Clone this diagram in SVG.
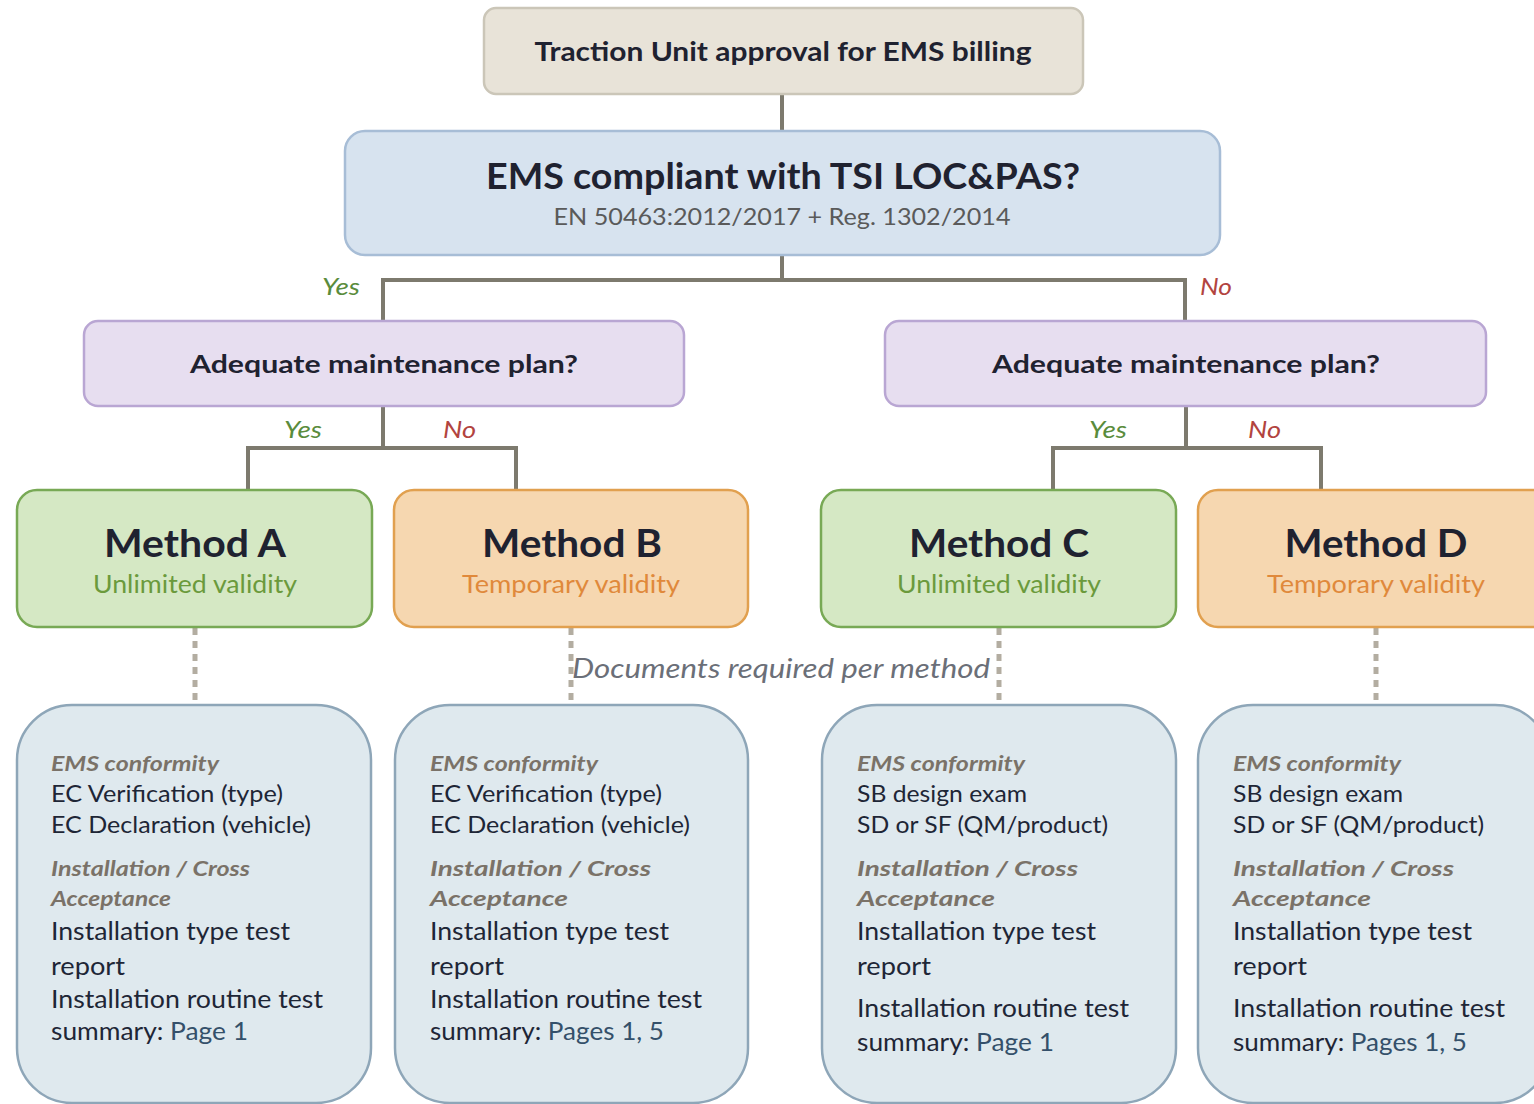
<svg xmlns="http://www.w3.org/2000/svg" width="1534" height="1104" viewBox="0 0 1534 1104">
<style>
text{font-family:Lato,"Liberation Sans",sans-serif;}
.conn{fill:none;stroke:#7d7a6e;stroke-width:4;}
.dash{fill:none;stroke:#b3ada1;stroke-width:5;stroke-dasharray:7 6;}
.b{font-weight:700;fill:#1f2230;}
.yes{font-style:italic;font-size:23px;fill:#5a8c3c;}
.no{font-style:italic;font-size:23px;fill:#b2443f;}
.purple{fill:#e7def0;stroke:#b9a6d3;stroke-width:2.5;}
.green{fill:#d5e8c4;stroke:#78a955;stroke-width:2.5;}
.orange{fill:#f6d7b0;stroke:#e1a04f;stroke-width:2.5;}
.doc{fill:#dfe9ee;stroke:#8ea6b8;stroke-width:2.5;}
.mt{font-weight:700;font-size:38px;fill:#1f2230;text-anchor:middle;}
.vg{font-size:25px;fill:#6b9a3c;text-anchor:middle;}
.vo{font-size:25px;fill:#e0893b;text-anchor:middle;}
.h{font-style:italic;font-weight:700;font-size:21px;fill:#7a7268;}
.t{font-size:23px;fill:#1e2636;}
.t2{font-size:25px;fill:#1e2636;}
.pg{fill:#34506a;}
</style>

<g id="connectors">
  <path class="conn" d="M782 94 V131"/>
  <path class="conn" d="M782 255 V280 M383 322 V280 H1185 V322"/>
  <path class="conn" d="M383 406 V448 M248 491 V448 H516 V491"/>
  <path class="conn" d="M1186 406 V448 M1053 491 V448 H1321 V491"/>
  <path class="dash" d="M195 628 V705"/>
  <path class="dash" d="M571 628 V705"/>
  <path class="dash" d="M999 628 V705"/>
  <path class="dash" d="M1376 628 V705"/>
  <text class="yes" x="322" y="295" textLength="38" lengthAdjust="spacingAndGlyphs">Yes</text>
  <text class="no" x="1200" y="295" textLength="32" lengthAdjust="spacingAndGlyphs">No</text>
  <text class="yes" x="284" y="438" textLength="38" lengthAdjust="spacingAndGlyphs">Yes</text>
  <text class="no" x="443" y="438" textLength="33" lengthAdjust="spacingAndGlyphs">No</text>
  <text class="yes" x="1089" y="438" textLength="38" lengthAdjust="spacingAndGlyphs">Yes</text>
  <text class="no" x="1248" y="438" textLength="33" lengthAdjust="spacingAndGlyphs">No</text>
  <text x="572" y="678" font-style="italic" font-size="27" fill="#6b6f78" textLength="418" lengthAdjust="spacingAndGlyphs">Documents required per method</text>
</g>

<g id="top">
  <rect x="484" y="8" width="599" height="86" rx="12" fill="#e8e3d8" stroke="#cbc6b8" stroke-width="2.5"/>
  <text class="b" x="783" y="61" font-size="27" text-anchor="middle" textLength="497" lengthAdjust="spacingAndGlyphs">Traction Unit approval for EMS billing</text>
</g>

<g id="tsi">
  <rect x="345" y="131" width="875" height="124" rx="20" fill="#d7e3ef" stroke="#a7bdd6" stroke-width="2.5"/>
  <text class="b" x="783" y="189" font-size="37" text-anchor="middle" textLength="594" lengthAdjust="spacingAndGlyphs">EMS compliant with TSI LOC&amp;PAS?</text>
  <text x="782" y="225" font-size="24" fill="#5a5a5a" text-anchor="middle" textLength="457" lengthAdjust="spacingAndGlyphs">EN 50463:2012/2017 + Reg. 1302/2014</text>
</g>

<g id="maint-yes">
  <rect class="purple" x="84" y="321" width="600" height="85" rx="14"/>
  <text class="b" x="384" y="373" font-size="25" text-anchor="middle" textLength="388" lengthAdjust="spacingAndGlyphs">Adequate maintenance plan?</text>
</g>
<g id="maint-no">
  <rect class="purple" x="885" y="321" width="601" height="85" rx="14"/>
  <text class="b" x="1186" y="373" font-size="25" text-anchor="middle" textLength="388" lengthAdjust="spacingAndGlyphs">Adequate maintenance plan?</text>
</g>

<g id="method-a">
  <rect class="green" x="17" y="490" width="355" height="137" rx="20"/>
  <text class="mt" x="195" y="557" textLength="182" lengthAdjust="spacingAndGlyphs">Method A</text>
  <text class="vg" x="195" y="593" textLength="204" lengthAdjust="spacingAndGlyphs">Unlimited validity</text>
</g>
<g id="method-b">
  <rect class="orange" x="394" y="490" width="354" height="137" rx="20"/>
  <text class="mt" x="572" y="557" textLength="180" lengthAdjust="spacingAndGlyphs">Method B</text>
  <text class="vo" x="571" y="593" textLength="218" lengthAdjust="spacingAndGlyphs">Temporary validity</text>
</g>
<g id="method-c">
  <rect class="green" x="821" y="490" width="355" height="137" rx="20"/>
  <text class="mt" x="999" y="557" textLength="180" lengthAdjust="spacingAndGlyphs">Method C</text>
  <text class="vg" x="999" y="593" textLength="204" lengthAdjust="spacingAndGlyphs">Unlimited validity</text>
</g>
<g id="method-d">
  <rect class="orange" x="1198" y="490" width="360" height="137" rx="20"/>
  <text class="mt" x="1376" y="557" textLength="183" lengthAdjust="spacingAndGlyphs">Method D</text>
  <text class="vo" x="1376" y="593" textLength="218" lengthAdjust="spacingAndGlyphs">Temporary validity</text>
</g>

<g id="docs-a">
  <rect class="doc" x="17" y="705" width="354" height="398" rx="55"/>
  <text class="h" x="51" y="771" textLength="168" lengthAdjust="spacingAndGlyphs">EMS conformity</text>
  <text class="t" x="51" y="802" textLength="232" lengthAdjust="spacingAndGlyphs">EC Verification (type)</text>
  <text class="t" x="51" y="833" textLength="260" lengthAdjust="spacingAndGlyphs">EC Declaration (vehicle)</text>
  <text class="h" x="51" y="876" textLength="199" lengthAdjust="spacingAndGlyphs">Installation / Cross</text>
  <text class="h" x="51" y="906" textLength="120" lengthAdjust="spacingAndGlyphs">Acceptance</text>
  <text class="t2" x="51" y="940" textLength="239" lengthAdjust="spacingAndGlyphs">Installation type test</text>
  <text class="t2" x="51" y="975" textLength="74" lengthAdjust="spacingAndGlyphs">report</text>
  <text class="t2" x="51" y="1008" textLength="272" lengthAdjust="spacingAndGlyphs">Installation routine test</text>
  <text class="t2" x="51" y="1040" textLength="197" lengthAdjust="spacingAndGlyphs">summary: <tspan class="pg">Page 1</tspan></text>
</g>
<g id="docs-b">
  <rect class="doc" x="395" y="705" width="353" height="398" rx="55"/>
  <text class="h" x="430" y="771" textLength="168" lengthAdjust="spacingAndGlyphs">EMS conformity</text>
  <text class="t" x="430" y="802" textLength="232" lengthAdjust="spacingAndGlyphs">EC Verification (type)</text>
  <text class="t" x="430" y="833" textLength="260" lengthAdjust="spacingAndGlyphs">EC Declaration (vehicle)</text>
  <text class="h" x="430" y="876" textLength="221" lengthAdjust="spacingAndGlyphs">Installation / Cross</text>
  <text class="h" x="430" y="906" textLength="138" lengthAdjust="spacingAndGlyphs">Acceptance</text>
  <text class="t2" x="430" y="940" textLength="239" lengthAdjust="spacingAndGlyphs">Installation type test</text>
  <text class="t2" x="430" y="975" textLength="74" lengthAdjust="spacingAndGlyphs">report</text>
  <text class="t2" x="430" y="1008" textLength="272" lengthAdjust="spacingAndGlyphs">Installation routine test</text>
  <text class="t2" x="430" y="1040" textLength="234" lengthAdjust="spacingAndGlyphs">summary: <tspan class="pg">Pages 1, 5</tspan></text>
</g>
<g id="docs-c">
  <rect class="doc" x="822" y="705" width="354" height="398" rx="55"/>
  <text class="h" x="857" y="771" textLength="168" lengthAdjust="spacingAndGlyphs">EMS conformity</text>
  <text class="t" x="857" y="802" textLength="170" lengthAdjust="spacingAndGlyphs">SB design exam</text>
  <text class="t" x="857" y="833" textLength="251" lengthAdjust="spacingAndGlyphs">SD or SF (QM/product)</text>
  <text class="h" x="857" y="876" textLength="221" lengthAdjust="spacingAndGlyphs">Installation / Cross</text>
  <text class="h" x="857" y="906" textLength="138" lengthAdjust="spacingAndGlyphs">Acceptance</text>
  <text class="t2" x="857" y="940" textLength="239" lengthAdjust="spacingAndGlyphs">Installation type test</text>
  <text class="t2" x="857" y="975" textLength="74" lengthAdjust="spacingAndGlyphs">report</text>
  <text class="t2" x="857" y="1017" textLength="272" lengthAdjust="spacingAndGlyphs">Installation routine test</text>
  <text class="t2" x="857" y="1051" textLength="197" lengthAdjust="spacingAndGlyphs">summary: <tspan class="pg">Page 1</tspan></text>
</g>
<g id="docs-d">
  <rect class="doc" x="1198" y="705" width="352" height="398" rx="55"/>
  <text class="h" x="1233" y="771" textLength="168" lengthAdjust="spacingAndGlyphs">EMS conformity</text>
  <text class="t" x="1233" y="802" textLength="170" lengthAdjust="spacingAndGlyphs">SB design exam</text>
  <text class="t" x="1233" y="833" textLength="251" lengthAdjust="spacingAndGlyphs">SD or SF (QM/product)</text>
  <text class="h" x="1233" y="876" textLength="221" lengthAdjust="spacingAndGlyphs">Installation / Cross</text>
  <text class="h" x="1233" y="906" textLength="138" lengthAdjust="spacingAndGlyphs">Acceptance</text>
  <text class="t2" x="1233" y="940" textLength="239" lengthAdjust="spacingAndGlyphs">Installation type test</text>
  <text class="t2" x="1233" y="975" textLength="74" lengthAdjust="spacingAndGlyphs">report</text>
  <text class="t2" x="1233" y="1017" textLength="272" lengthAdjust="spacingAndGlyphs">Installation routine test</text>
  <text class="t2" x="1233" y="1051" textLength="234" lengthAdjust="spacingAndGlyphs">summary: <tspan class="pg">Pages 1, 5</tspan></text>
</g>
</svg>
